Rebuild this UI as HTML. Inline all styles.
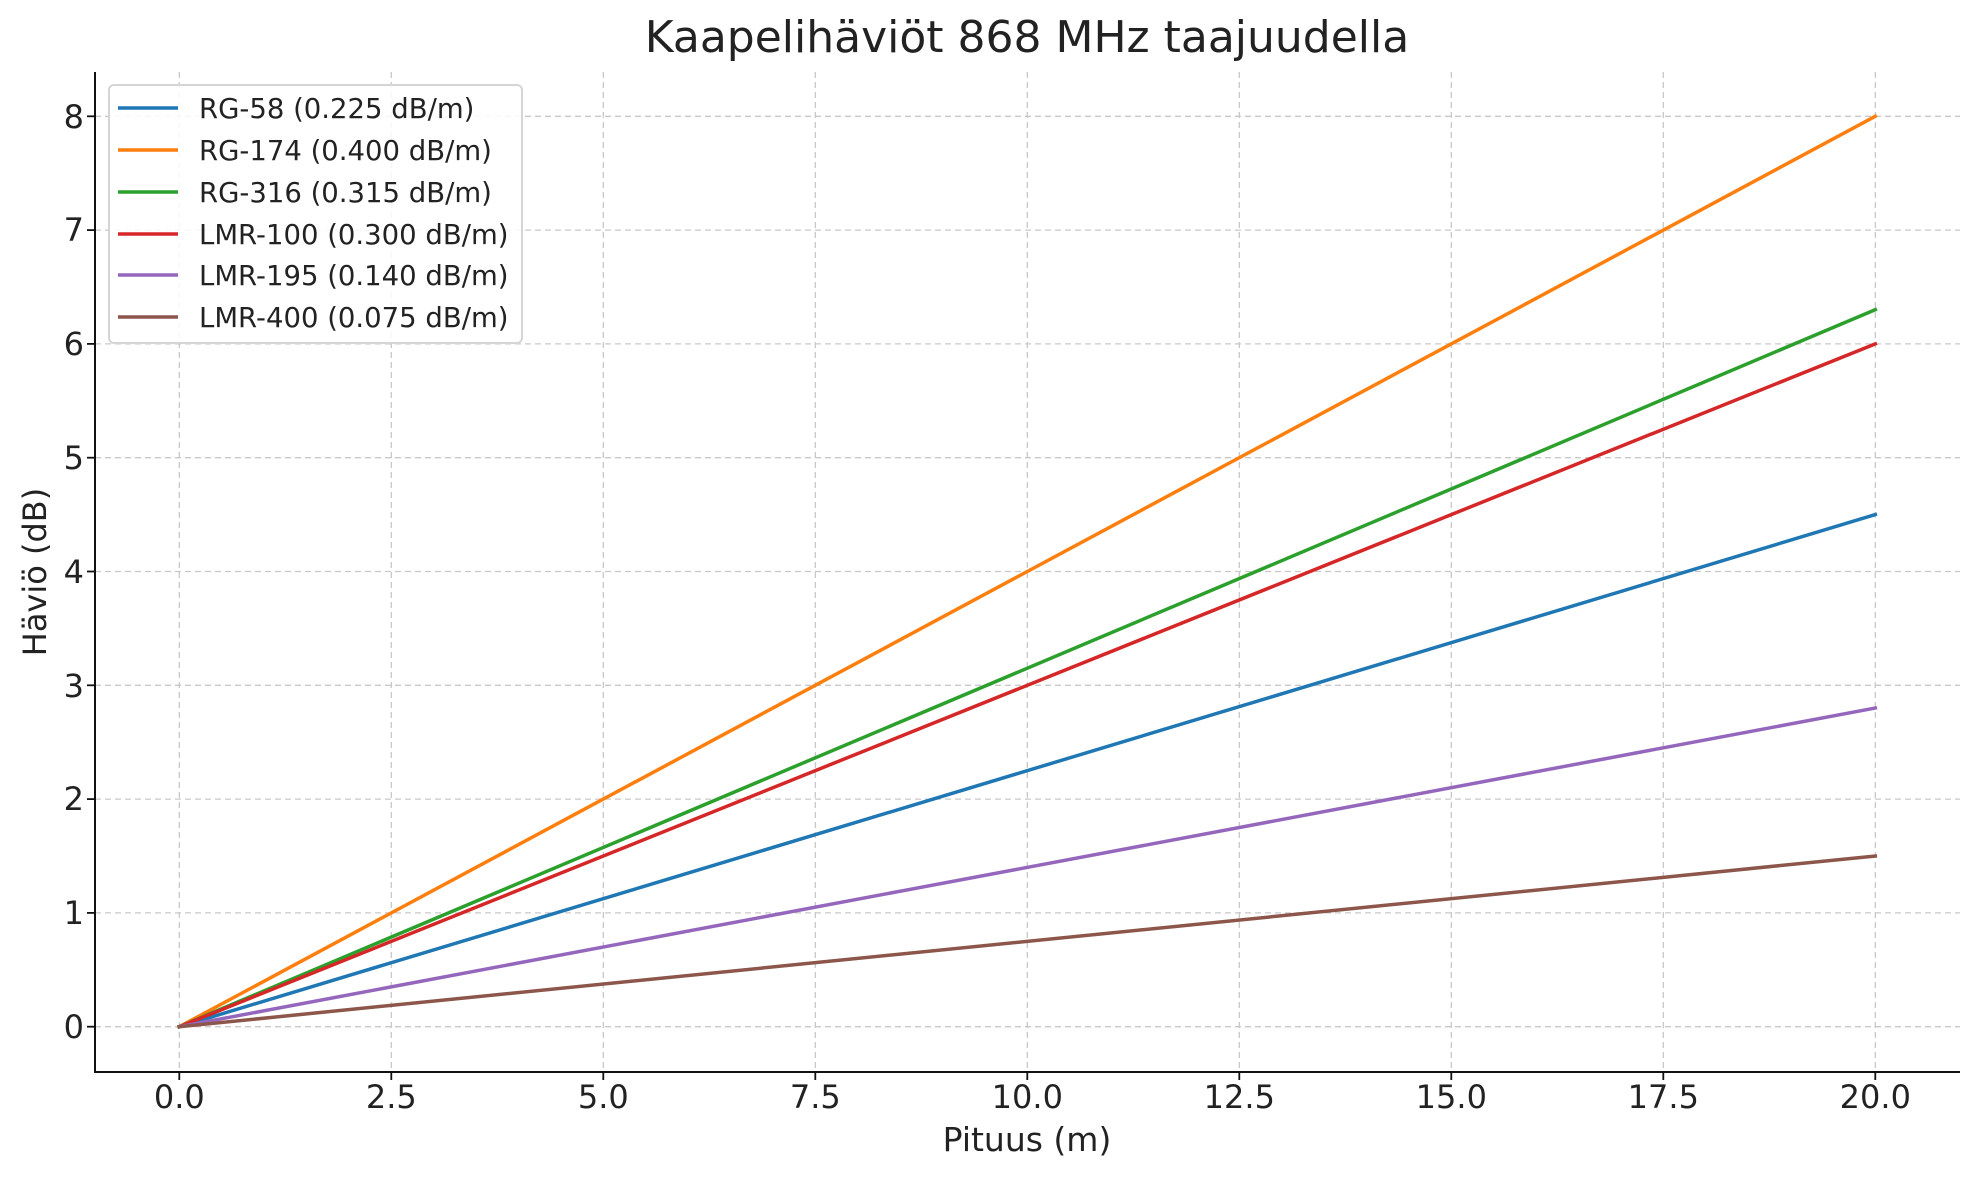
<!DOCTYPE html>
<html><head><meta charset="utf-8"><style>html,body{margin:0;padding:0;background:#fff}svg{display:block}text{font-family:"DejaVu Sans","Liberation Sans",sans-serif;fill:#222}</style></head>
<body>
<svg width="1980" height="1180" viewBox="0 0 1980 1180" xmlns="http://www.w3.org/2000/svg">
<g stroke="#c8c8c8" stroke-width="1.3" stroke-dasharray="6,4">
<line x1="179.3" y1="72" x2="179.3" y2="1072"/><line x1="391.3" y1="72" x2="391.3" y2="1072"/><line x1="603.3" y1="72" x2="603.3" y2="1072"/><line x1="815.3" y1="72" x2="815.3" y2="1072"/><line x1="1027.3" y1="72" x2="1027.3" y2="1072"/><line x1="1239.3" y1="72" x2="1239.3" y2="1072"/><line x1="1451.3" y1="72" x2="1451.3" y2="1072"/><line x1="1663.3" y1="72" x2="1663.3" y2="1072"/><line x1="1875.3" y1="72" x2="1875.3" y2="1072"/>
<line x1="95" y1="1026.7" x2="1960" y2="1026.7"/><line x1="95" y1="912.9" x2="1960" y2="912.9"/><line x1="95" y1="799.1" x2="1960" y2="799.1"/><line x1="95" y1="685.3" x2="1960" y2="685.3"/><line x1="95" y1="571.5" x2="1960" y2="571.5"/><line x1="95" y1="457.7" x2="1960" y2="457.7"/><line x1="95" y1="343.9" x2="1960" y2="343.9"/><line x1="95" y1="230.1" x2="1960" y2="230.1"/><line x1="95" y1="116.3" x2="1960" y2="116.3"/>
</g>
<g stroke-width="3.5" fill="none" stroke-linecap="square">
<line x1="179.3" y1="1026.7" x2="1875.3" y2="514.6" stroke="#1f77b4"/>
<line x1="179.3" y1="1026.7" x2="1875.3" y2="116.3" stroke="#ff7f0e"/>
<line x1="179.3" y1="1026.7" x2="1875.3" y2="309.7" stroke="#2ca02c"/>
<line x1="179.3" y1="1026.7" x2="1875.3" y2="343.9" stroke="#d62728"/>
<line x1="179.3" y1="1026.7" x2="1875.3" y2="708.0" stroke="#9467bd"/>
<line x1="179.3" y1="1026.7" x2="1875.3" y2="856.0" stroke="#8c564b"/>
</g>
<g stroke="#111" stroke-width="2">
<line x1="95" y1="72" x2="95" y2="1073"/><line x1="94" y1="1072" x2="1960" y2="1072"/>
</g>
<g stroke="#111" stroke-width="1.8">
<line x1="87" y1="1026.7" x2="95" y2="1026.7"/><line x1="87" y1="912.9" x2="95" y2="912.9"/><line x1="87" y1="799.1" x2="95" y2="799.1"/><line x1="87" y1="685.3" x2="95" y2="685.3"/><line x1="87" y1="571.5" x2="95" y2="571.5"/><line x1="87" y1="457.7" x2="95" y2="457.7"/><line x1="87" y1="343.9" x2="95" y2="343.9"/><line x1="87" y1="230.1" x2="95" y2="230.1"/><line x1="87" y1="116.3" x2="95" y2="116.3"/>
<line x1="179.3" y1="1072" x2="179.3" y2="1080"/><line x1="391.3" y1="1072" x2="391.3" y2="1080"/><line x1="603.3" y1="1072" x2="603.3" y2="1080"/><line x1="815.3" y1="1072" x2="815.3" y2="1080"/><line x1="1027.3" y1="1072" x2="1027.3" y2="1080"/><line x1="1239.3" y1="1072" x2="1239.3" y2="1080"/><line x1="1451.3" y1="1072" x2="1451.3" y2="1080"/><line x1="1663.3" y1="1072" x2="1663.3" y2="1080"/><line x1="1875.3" y1="1072" x2="1875.3" y2="1080"/>
</g>
<g font-size="32" text-anchor="end">
<text x="84" y="1038">0</text><text x="84" y="924">1</text><text x="84" y="810">2</text><text x="84" y="697">3</text><text x="84" y="583">4</text><text x="84" y="469">5</text><text x="84" y="355">6</text><text x="84" y="241">7</text><text x="84" y="128">8</text>
</g>
<g font-size="32" text-anchor="middle">
<text x="179.3" y="1108">0.0</text><text x="391.3" y="1108">2.5</text><text x="603.3" y="1108">5.0</text><text x="815.3" y="1108">7.5</text><text x="1027.3" y="1108">10.0</text><text x="1239.3" y="1108">12.5</text><text x="1451.3" y="1108">15.0</text><text x="1663.3" y="1108">17.5</text><text x="1875.3" y="1108">20.0</text>
<text x="1027" y="1151" font-size="33">Pituus (m)</text>
<text x="1027" y="52" font-size="44">Kaapelihäviöt 868 MHz taajuudella</text>
<text transform="translate(46,572) rotate(-90)">Häviö (dB)</text>
</g>
<rect x="109" y="85" width="413" height="258" rx="5" fill="#fff" fill-opacity="0.85" stroke="#d5d5d5" stroke-width="2"/>
<g stroke-width="3.5">
<line x1="118" y1="108" x2="178" y2="108" stroke="#1f77b4"/>
<line x1="118" y1="150" x2="178" y2="150" stroke="#ff7f0e"/>
<line x1="118" y1="192" x2="178" y2="192" stroke="#2ca02c"/>
<line x1="118" y1="234" x2="178" y2="234" stroke="#d62728"/>
<line x1="118" y1="275" x2="178" y2="275" stroke="#9467bd"/>
<line x1="118" y1="317" x2="178" y2="317" stroke="#8c564b"/>
</g>
<g font-size="27.5" fill="#333">
<text x="199" y="118">RG-58 (0.225 dB/m)</text>
<text x="199" y="160">RG-174 (0.400 dB/m)</text>
<text x="199" y="202">RG-316 (0.315 dB/m)</text>
<text x="199" y="244">LMR-100 (0.300 dB/m)</text>
<text x="199" y="285">LMR-195 (0.140 dB/m)</text>
<text x="199" y="327">LMR-400 (0.075 dB/m)</text>
</g>
</svg>
</body></html>
